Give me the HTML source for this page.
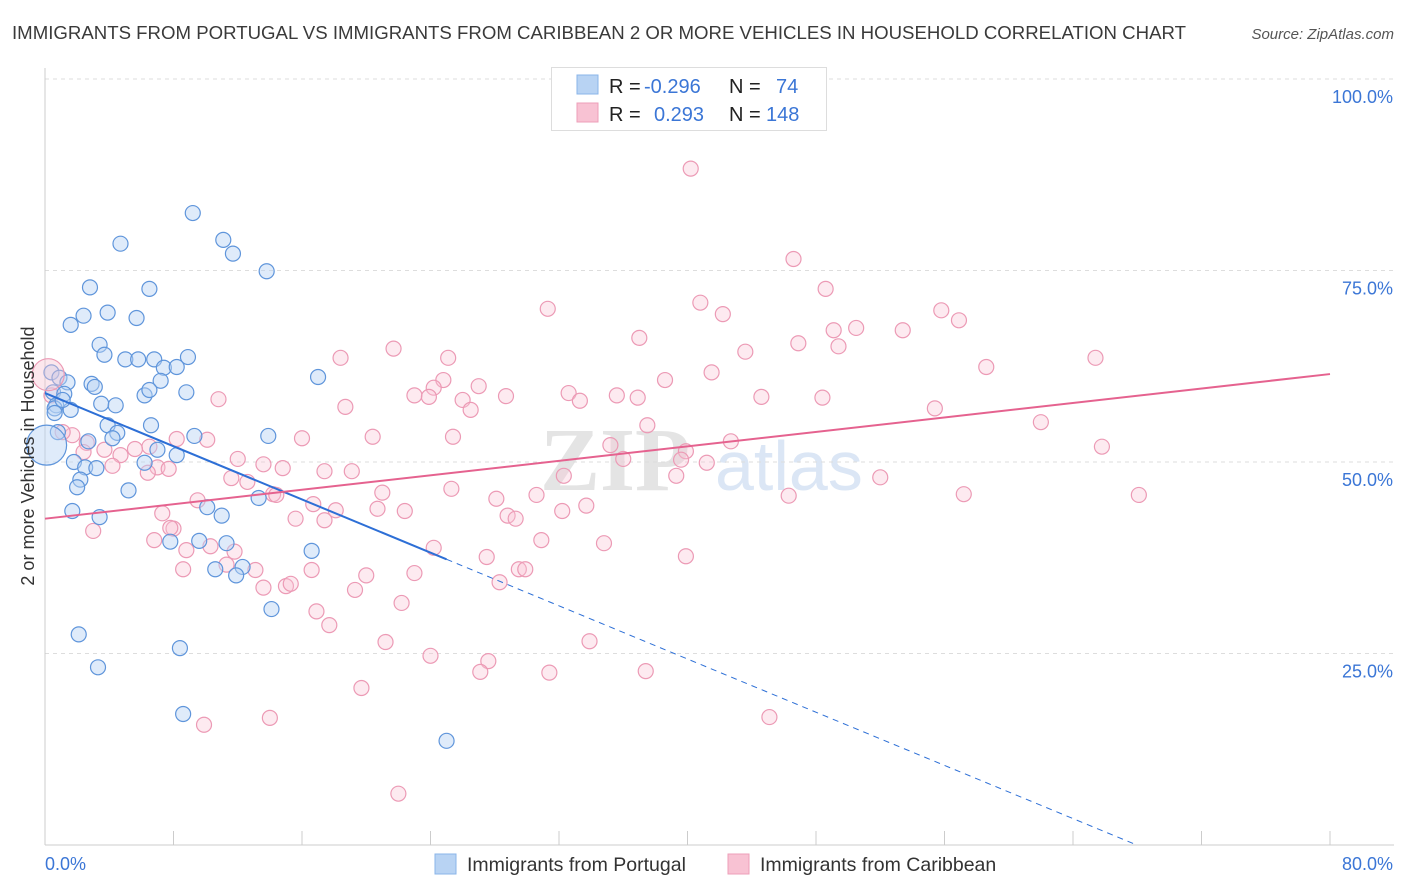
<!DOCTYPE html>
<html><head><meta charset="utf-8"><style>
body{margin:0;background:#fff;font-family:"Liberation Sans",sans-serif;}
svg{display:block}
</style></head><body>
<svg id="chart" width="1406" height="892" xmlns="http://www.w3.org/2000/svg">
<text x="12" y="39" font-size="18.6" fill="#3a3a3a" textLength="1174" lengthAdjust="spacingAndGlyphs">IMMIGRANTS FROM PORTUGAL VS IMMIGRANTS FROM CARIBBEAN 2 OR MORE VEHICLES IN HOUSEHOLD CORRELATION CHART</text>
<text x="1394" y="39" font-size="15" fill="#555" font-style="italic" text-anchor="end">Source: ZipAtlas.com</text>
<text x="690" y="490" font-size="90" fill="#e4e4e4" font-family="Liberation Serif,serif" font-weight="bold" text-anchor="end">ZIP</text>
<text x="715" y="490" font-size="70" fill="#dbe6f5">atlas</text>
<g id="grid"></g><g id="axes"></g><g id="marks"></g><g id="lines"></g>
<g>
<rect x="551.5" y="67.5" width="275" height="63" fill="#fff" stroke="#ddd"/>
<rect x="577" y="75" width="21" height="19" fill="#b8d3f3" stroke="#8ab4e8"/>
<rect x="577" y="103" width="21" height="19" fill="#f8c2d3" stroke="#ee9fb8"/>
<text y="93" font-size="20" fill="#222"><tspan x="609">R = </tspan><tspan x="644" fill="#3b76d6">-0.296</tspan><tspan x="729">N = </tspan><tspan x="776" fill="#3b76d6">74</tspan></text>
<text y="121" font-size="20" fill="#222"><tspan x="609">R = </tspan><tspan x="654" fill="#3b76d6">0.293</tspan><tspan x="729">N = </tspan><tspan x="766" fill="#3b76d6">148</tspan></text>
</g>
<g>
<rect x="435" y="854" width="21" height="20" fill="#b8d3f3" stroke="#8ab4e8"/>
<text x="467" y="871" font-size="19.5" fill="#333">Immigrants from Portugal</text>
<rect x="728" y="854" width="21" height="20" fill="#f8c2d3" stroke="#ee9fb8"/>
<text x="760" y="871" font-size="19.5" fill="#333">Immigrants from Caribbean</text>
</g>
<text transform="translate(34,456) rotate(-90)" font-size="18" fill="#333" text-anchor="middle">2 or more Vehicles in Household</text>
</svg>
<script>
const blueX=[0.4,0.9,0.5,1.4,1.2,0.7,1.6,0.6,2.8,2.4,1.6,3.9,5.7,4.7,6.5,9.2,11.1,11.7,13.8,3.4,3.7,5.0,5.8,6.8,7.4,8.9,8.2,7.2,2.9,3.1,6.2,8.8,3.5,4.4,3.9,4.5,4.2,6.6,2.7,1.8,2.5,3.2,2.2,2.0,5.2,7.0,6.2,8.2,9.3,13.9,17.0,10.1,11.0,7.8,9.6,11.3,10.6,12.3,11.9,13.3,16.6,14.1,1.7,3.4,2.1,3.3,8.4,8.6,25.0,0.6,1.1,6.5,0.8];
const blueY=[61.7,61.0,59.1,60.4,58.9,57.4,56.8,57.0,72.8,69.1,67.9,69.5,68.8,78.5,72.6,82.5,79.0,77.2,74.9,65.3,64.0,63.4,63.4,63.4,62.3,63.7,62.4,60.6,60.2,59.8,58.7,59.1,57.6,57.4,54.8,53.8,53.1,54.8,52.7,50.0,49.3,49.2,47.7,46.7,46.3,51.6,49.9,50.9,53.4,53.4,61.1,44.1,43.0,39.6,39.7,39.4,36.0,36.3,35.2,45.3,38.4,30.8,43.6,42.8,27.5,23.2,25.7,17.1,13.6,56.4,58.1,59.4,53.9];
const pinkX=[40.2,46.6,48.6,31.3,40.8,42.2,55.8,56.9,50.5,49.1,53.4,37.0,49.4,46.9,43.6,21.7,18.4,25.1,65.4,58.6,41.5,38.6,24.8,24.2,27.0,23.0,23.9,26.0,26.5,28.7,32.6,33.3,35.6,36.9,44.6,48.4,55.4,18.7,10.8,62.0,65.8,37.5,42.7,35.2,39.9,36.0,39.6,41.2,32.3,39.3,52.0,25.4,16.0,20.4,10.1,8.2,6.5,5.6,3.7,2.6,1.7,1.1,2.4,4.7,12.0,13.6,14.8,7.0,6.4,7.7,4.2,11.6,12.6,17.4,19.1,14.2,21.0,25.3,30.6,28.1,28.8,29.3,32.2,33.7,22.4,20.7,18.1,16.7,15.6,17.4,14.4,9.5,7.3,8.0,3.0,6.8,8.8,11.8,10.3,11.3,13.1,15.0,20.0,23.0,24.2,27.5,29.5,29.9,30.9,34.8,39.9,8.6,13.6,15.3,16.6,19.3,22.2,16.9,17.7,21.2,33.9,24.0,27.6,27.1,31.4,37.4,19.7,9.9,14.0,45.1,22.0,46.3,57.2,68.1,28.3,7.8,0.4];
const pinkY=[88.3,76.5,72.6,70.0,70.8,69.3,69.8,68.5,67.5,67.2,67.2,66.2,65.1,65.5,64.4,64.8,63.6,63.6,63.6,62.4,61.7,60.7,60.7,59.7,59.9,58.7,58.5,58.1,56.8,58.6,59.0,58.0,58.7,58.4,58.5,58.4,57.0,57.2,58.2,55.2,52.0,54.8,52.7,52.2,51.4,50.4,50.3,49.9,48.2,48.2,48.0,53.3,53.1,53.3,52.9,53.0,52.0,51.7,51.6,52.5,53.5,53.9,51.3,50.9,50.4,49.7,49.2,49.3,48.6,49.1,49.5,47.9,47.4,48.8,48.8,45.8,46.0,46.5,45.7,45.2,43.0,42.6,43.6,44.3,43.6,43.9,43.7,44.5,42.6,42.4,45.7,45.0,43.3,41.3,41.0,39.8,38.5,38.3,39.0,36.6,35.9,33.8,35.2,35.5,38.8,37.6,36.0,36.0,39.8,39.4,37.7,36.0,33.6,34.1,35.9,33.3,31.6,30.5,28.7,26.5,26.6,24.7,24.0,22.6,22.5,22.7,20.5,15.7,16.6,16.7,6.7,45.6,45.8,45.7,34.3,41.4,58.7];
const bigBlue=[0.1,52.2], bigPink=[0.2,61.4];
const blueFit=[59.0,-0.868], pinkFit=[42.6,0.236];
const yTicks=[25,50,75,100];
const NS="http://www.w3.org/2000/svg";
const X=v=>45+v*1285/80, Y=v=>845-v*7.66;
function mk(tag,attrs,parent){const e=document.createElementNS(NS,tag);for(const k in attrs)e.setAttribute(k,attrs[k]);parent.appendChild(e);return e;}
const grid=document.getElementById('grid'),axes=document.getElementById('axes'),marks=document.getElementById('marks'),lines=document.getElementById('lines');
yTicks.forEach(t=>{
 const l=mk('line',{x1:45,x2:1394,y1:Y(t),y2:Y(t),stroke:'#ddd','stroke-dasharray':'4,4'},grid);
 
 
 const tx=mk('text',{x:1393,y:Y(t)+24,'font-size':18,fill:'#3b76d6','text-anchor':'end'},grid);
 tx.textContent=t.toFixed(1)+'%';
 
 
});
let a=mk('line',{x1:45,x2:45,y1:68,y2:845,stroke:'#ccc'},axes);


a=mk('line',{x1:45,x2:1394,y1:845,y2:845,stroke:'#ccc'},axes);


for(let i=0;i<=10;i++){const t=mk('line',{x1:X(i*8),x2:X(i*8),y1:831,y2:845,stroke:'#ccc'},axes);
 
 }
let xl=mk('text',{x:45,y:870,'font-size':18,fill:'#3b76d6'},axes);xl.textContent='0.0%';


xl=mk('text',{x:1393,y:870,'font-size':18,fill:'#3b76d6','text-anchor':'end'},axes);xl.textContent='80.0%';


function dot(x,y,r,f,s,n){const c=mk('circle',{cx:X(x),cy:Y(y),r:r,fill:f,stroke:s,'stroke-width':1.2},marks);
 
 }
pinkX.forEach((x,i)=>dot(x,pinkY[i],7.5,'rgba(248,194,211,0.35)','#ec9ab5','point-caribbean'));
blueX.forEach((x,i)=>dot(x,blueY[i],7.5,'rgba(184,211,243,0.45)','#5f95db','point-portugal'));
dot(bigPink[0],bigPink[1],16,'rgba(248,194,211,0.4)','#ec9ab5','point-caribbean-large');
dot(bigBlue[0],bigBlue[1],20,'rgba(184,211,243,0.45)','#5f95db','point-portugal-large');
let ln=mk('line',{x1:X(0),y1:Y(blueFit[0]),x2:X(25),y2:Y(blueFit[0]+blueFit[1]*25),stroke:'#2d6fd6','stroke-width':2},lines);


const xz=-blueFit[0]/blueFit[1];
ln=mk('line',{x1:X(25),y1:Y(blueFit[0]+blueFit[1]*25),x2:X(xz),y2:Y(0),stroke:'#2d6fd6','stroke-width':1,'stroke-dasharray':'6,5'},lines);


ln=mk('line',{x1:X(0),y1:Y(pinkFit[0]),x2:X(80),y2:Y(pinkFit[0]+pinkFit[1]*80),stroke:'#e5628f','stroke-width':2},lines);


</script>
</body></html>
